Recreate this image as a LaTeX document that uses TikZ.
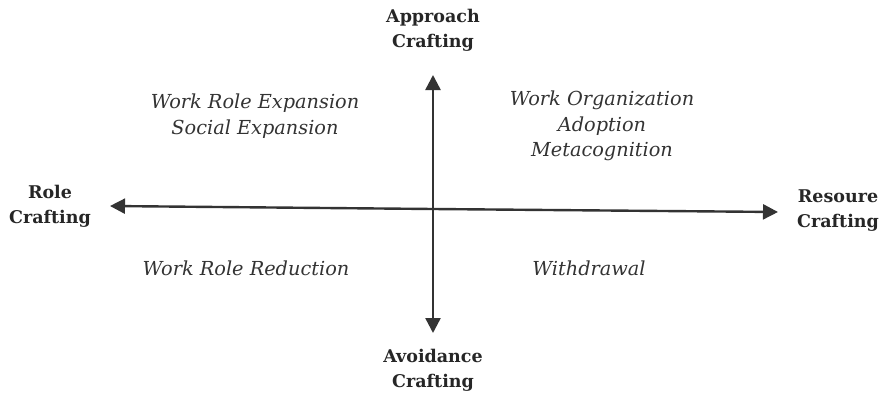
\documentclass[tikz,border=0pt]{standalone}
\usepackage{fontspec}
\setmainfont{DejaVu Serif}
\usetikzlibrary{arrows.meta}
\begin{document}
\begin{tikzpicture}[x=1pt,y=-1pt,
  axis/.style={draw=black!80, line width=2.4pt,
    -{Triangle[length=15pt,width=15pt]}},
  pole/.style={font=\fontsize{17.5}{25}\selectfont\bfseries, align=center, text=black!85},
  item/.style={font=\fontsize{19.3}{25.5}\selectfont\itshape, align=center, text=black!80}]
\useasboundingbox (0,0) rectangle (883,396);
% axis end labels
\node[pole] (app) at (433,30) {Approach\\Crafting};
\node[pole] (avo) at (433,370) {Avoidance\\Crafting};
\node[pole] (rol) at (50,206) {Role\\Crafting};
\node[pole] (res) at (838,211) {Resoure\\Crafting};
% axis ends
\coordinate (top) at (433,75);
\coordinate (bot) at (433,333);
\coordinate (lft) at (110,206);
\coordinate (rgt) at (778,212);
\coordinate (mid) at (433,209);
\draw[axis] (mid) -- (top);
\draw[axis] (mid) -- (bot);
\draw[axis] (mid) -- (lft);
\draw[axis] (mid) -- (rgt);
% quadrant contents
\node[item] (q1) at (255,116) {Work Role Expansion\\Social Expansion};
\node[item] (q2) at (602,126) {Work Organization\\Adoption\\Metacognition};
\node[item] (q3) at (246,268) {Work Role Reduction};
\node[item] (q4) at (589,268) {Withdrawal};
\end{tikzpicture}
\end{document}
